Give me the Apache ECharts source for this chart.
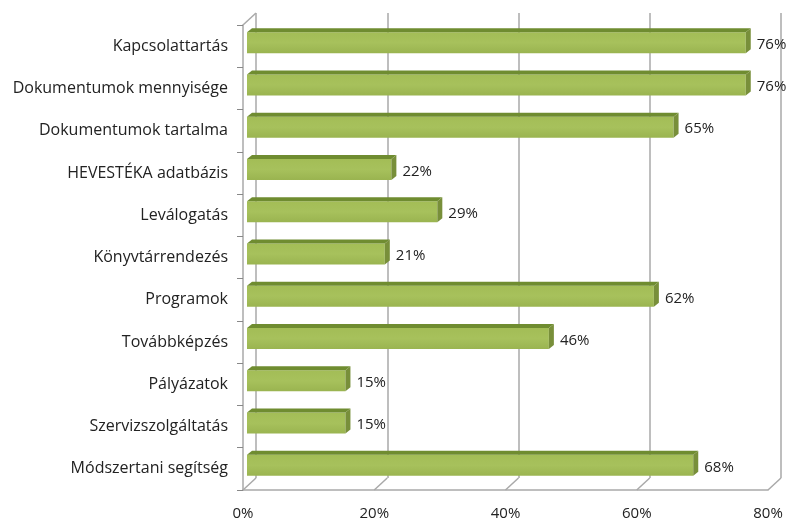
<!DOCTYPE html>
<html>
<head>
<meta charset="utf-8">
<script src="https://cdn.jsdelivr.net/npm/echarts@6/dist/echarts.min.js"></script>
<style>html,body{margin:0;padding:0;background:#fff}#c{width:789px;height:522px}</style>
</head>
<body>
<div id="c"></div>
<script>
const categories = ["Kapcsolattartás","Dokumentumok mennyisége","Dokumentumok tartalma","HEVESTÉKA adatbázis","Leválogatás","Könyvtárrendezés","Programok","Továbbképzés","Pályázatok","Szervizszolgáltatás","Módszertani segítség"];
const values = [76,76,65,22,29,21,62,46,15,15,68];
const tickValues = [0,20,40,60,80];

const FONT = "Open Sans";
const DX = 13, DY = 12;      // back wall offset
const BX = 4, BY = 4;        // bar front-face offset
const BD = 5, BDY = 4;       // bar depth
const BH = 21;               // bar face height
const GRID = '#a9a9a9';

const chart = echarts.init(document.getElementById('c'));
chart.setOption({
  animation: false,
  grid: [
    {left: 243, right: 21, top: 25, bottom: 32},
    {left: 243 + DX, right: 21 - DX, top: 25 - DY, bottom: 32 + DY}
  ],
  xAxis: [
    {gridIndex: 0, type: 'value', min: 0, max: 80, interval: 20,
     axisLine: {show: true, lineStyle: {color: GRID, width: 1.5}},
     axisTick: {show: false}, splitLine: {show: false},
     axisLabel: {formatter: '{value}%', fontFamily: FONT, fontSize: 15, color: '#222', margin: 16}},
    {gridIndex: 1, type: 'value', min: 0, max: 80, interval: 20,
     axisLine: {show: false}, axisTick: {show: false}, axisLabel: {show: false},
     splitLine: {show: true, lineStyle: {color: GRID, width: 1.5}}}
  ],
  yAxis: [
    {gridIndex: 0, type: 'category', data: categories, inverse: true,
     axisLine: {show: true, lineStyle: {color: GRID, width: 1.5}},
     axisTick: {show: true, length: 6, lineStyle: {color: '#888'}},
     axisLabel: {fontFamily: FONT, fontSize: 16, color: '#222', margin: 15}},
    {gridIndex: 1, type: 'category', data: categories, inverse: true, show: false}
  ],
  series: [
    {
      type: 'custom', xAxisIndex: 0, yAxisIndex: 0, z: 1,
      data: tickValues,
      renderItem: function (params, api) {
        const p = api.coord([api.value(0), 0]);
        const cs = params.coordSys;
        const yb = cs.y + cs.height;
        const children = [{type: 'line', shape: {x1: p[0], y1: yb, x2: p[0] + DX, y2: yb - DY},
                 style: {stroke: GRID, lineWidth: 1.5}}];
        if (api.value(0) === 0) {
          children.push({type: 'line', shape: {x1: p[0], y1: cs.y, x2: p[0] + DX, y2: cs.y - DY},
                 style: {stroke: GRID, lineWidth: 1.5}});
        }
        return {type: 'group', children: children};
      },
      encode: {x: 0}
    },
    {
      type: 'custom', xAxisIndex: 0, yAxisIndex: 0, z: 3,
      data: values.map((v, i) => [v, i]),
      encode: {x: 0, y: 1},
      renderItem: function (params, api) {
        const v = api.value(0), c = api.value(1);
        const p0 = api.coord([0, c]);
        const p1 = api.coord([v, c]);
        const x0 = p0[0] + BX, x1 = p1[0] + BX;
        const yc = p0[1] - BY + 0.5;
        const yt = yc - BH / 2, yb = yc + BH / 2;
        return {type: 'group', children: [
          {type: 'rect', shape: {x: x0, y: yt, width: x1 - x0, height: BH},
           style: {fill: new echarts.graphic.LinearGradient(0, 0, 0, 1, [
             {offset: 0, color: '#a3bd56'}, {offset: 0.5, color: '#a7c15c'}, {offset: 1, color: '#9ab450'}])}},
          {type: 'polygon', shape: {points: [[x0, yt], [x0 + BD, yt - BDY], [x1 + BD, yt - BDY], [x1, yt]]},
           style: {fill: '#6f8c30'}},
          {type: 'polygon', shape: {points: [[x1, yt], [x1 + BD, yt - BDY], [x1 + BD, yb - BDY], [x1, yb]]},
           style: {fill: '#788f3a'}},
          {type: 'text', style: {text: v + '%', x: x1 + BD + 6, y: yc + 2, fill: '#222',
           font: '15px "' + FONT + '"', textAlign: 'left', textVerticalAlign: 'middle'}}
        ]};
      }
    }
  ]
});
</script>
</body>
</html>
